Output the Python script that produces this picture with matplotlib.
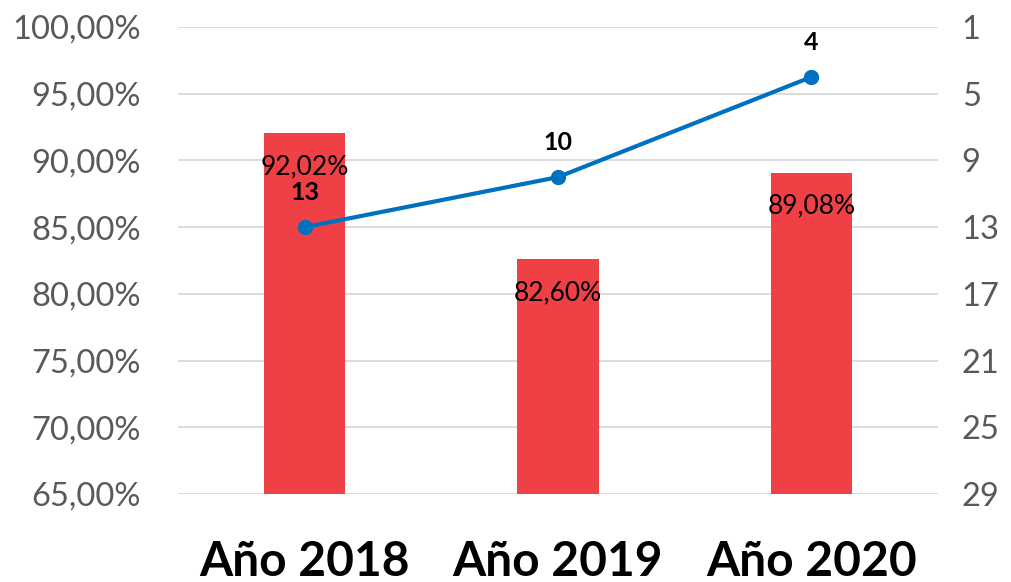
import matplotlib.pyplot as plt
import numpy as np

# data
years = ["Año 2018", "Año 2019", "Año 2020"]
pct = [92.02, 82.60, 89.08]
rank = [13, 10, 4]

plt.rcParams['font.family'] = ['Lato', 'DejaVu Sans']

fig = plt.figure(figsize=(10.11, 5.82), dpi=100)
ax = fig.add_axes([178/1011, 1-494/582, (938-178)/1011, (494-27)/582])
x = np.arange(len(years))

ax.bar(x, pct, width=0.32, color="#EF4145", zorder=2)
ax.set_ylim(65, 100)
ax.set_xlim(-0.5, 2.5)
ax.set_yticks(np.arange(65, 100.1, 5))
ax.set_yticklabels([f"{v:.2f}%".replace(".", ",") for v in np.arange(65, 100.1, 5)])
ax.grid(axis="y", color="#D9D9D9", linewidth=1.3, zorder=0)
ax.set_xticks(x)
ax.set_xticklabels(years, fontsize=34.5, fontweight="bold")
ax.tick_params(axis="x", length=0, pad=33)
ax.tick_params(axis="y", length=0, labelsize=23.5, labelcolor="#595959", pad=27)
for s in ax.spines.values():
    s.set_visible(False)

# bar labels inside end
for xi, v in zip(x, pct):
    ax.annotate(f"{v:.2f}%".replace(".", ","), (xi, v), xytext=(0, -24), textcoords="offset points",
                ha="center", va="center", fontsize=19, color="black", zorder=5)

ax2 = ax.twinx()
ax2.set_ylim(29, 1)
ax2.set_yticks(np.arange(1, 30, 4))
ax2.plot(x, rank, color="#0070C0", linewidth=3, marker="o", markersize=10, zorder=4)
for xi, r in zip(x, rank):
    ax2.annotate(str(r), (xi, r), xytext=(0, 25), textcoords="offset points",
                 ha="center", va="center", fontsize=18, fontweight="bold", color="black")
ax2.tick_params(axis="y", length=0, labelsize=23.5, labelcolor="#595959", pad=17)
for s in ax2.spines.values():
    s.set_visible(False)

fig.savefig("out.png", dpi=100)
